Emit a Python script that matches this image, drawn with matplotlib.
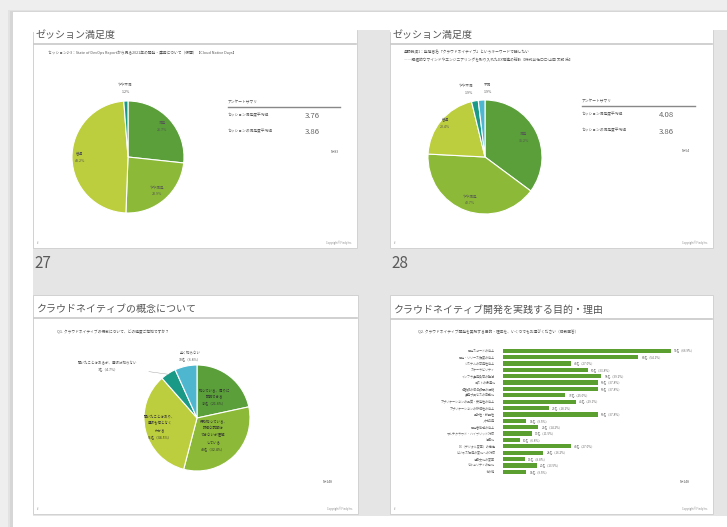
import matplotlib
matplotlib.use('Agg')
import matplotlib.pyplot as plt
from matplotlib.patches import Rectangle
import numpy as np

plt.rcParams['font.family'] = ['Noto Sans CJK JP', 'DejaVu Sans']

W, H = 727, 527

# ---------------- data ----------------
slide_titles = ['ゼッション満足度', 'ゼッション満足度',
                'クラウドネイティブの概念について', 'クラウドネイティブ開発を実践する目的・理由']
slide_numbers = ['27', '28']

s1_subtitle = 'セッション2-3：State of DevOps Reportから見る2021年の開発・運用について（仮題）【Cloud Native Days】'
s1_labels = ['満足', 'やや満足', '普通', 'やや不満']
s1_values = [26.7, 23.9, 48.2, 1.2]
s1_avg_labels = ['セッション満足度平均値', 'セッションの満足度平均値']
s1_avg_values = ['3.76', '3.86']
s1_n = 'N=83'

s2_subtitle = ['基調講演1：登壇者名「クラウドネイティブ」というキーワードで話したい',
               '――積極的なマインドやエンジニアリングを取り入れたDX推進の秘訣【株式会社◯◯ 山田 太郎 氏】']
s2_labels = ['満足', 'やや満足', '普通', 'やや不満', '不満']
s2_values = [35.2, 40.7, 20.4, 1.9, 1.9]
s2_avg_labels = ['セッション満足度平均値', 'セッションの満足度平均値']
s2_avg_values = ['4.08', '3.86']
s2_n = 'N=54'

s3_question = 'Q1. クラウドネイティブの概念について、どの程度ご存知ですか？'
s3_labels = ['知っている、周りに\n説明できる', '概ね知っている、\n詳細な説明は\nできないが理解\nしている',
             '聞いたことはあり、\n意味も何となく\nわかる', '聞いたことはあるが、意味は知らない', '全く知らない']
s3_counts = [32, 48, 51, 7, 10]
s3_n = 148

s4_question = 'Q2. クラウドネイティブ開発を実践する目的・理由を、いくつでもお選びください（複数回答）'
s4_categories = ['開発スピードの向上', '開発・リリース頻度の向上', 'システムの可用性向上', 'スケーラビリティ',
                 'インフラ運用負荷の軽減', 'コストの最適化', '障害時の復旧時間の短縮', '運用プロセスの自動化',
                 'アプリケーションの品質・安定性の向上', 'アプリケーションの移植性の向上', '柔軟性・拡張性',
                 '人材採用', '開発者体験の向上', 'マルチクラウド・ハイブリッド対応', '標準化',
                 'DX（デジタル変革）の推進', 'ビジネス環境の変化への対応', '組織文化の変革',
                 'セキュリティの強化', 'その他']
s4_counts = [99, 80, 40, 50, 58, 56, 56, 37, 43, 27, 56, 14, 21, 17, 10, 40, 24, 13, 20, 14]
s4_n = 148

# ---------------- style ----------------
C_DARK = '#5a9f3a'
C_MED = '#8cba38'
C_YEL = '#bccd3d'
C_TEAL = '#1a9a86'
C_BLUE = '#4fb6cf'
C_BAR = '#5a9f30'
TXT = '#555555'
SMALL = '#555555'

fig = plt.figure(figsize=(W / 100, H / 100), dpi=100)
fig.patch.set_facecolor('#eeeeee')
bg = fig.add_axes([0, 0, 1, 1])
bg.set_xlim(0, W)
bg.set_ylim(H, 0)
bg.axis('off')


def rect(x0, y0, x1, y1, fc, ec='none', lw=0, z=1):
    bg.add_patch(Rectangle((x0, y0), x1 - x0, y1 - y0, facecolor=fc, edgecolor=ec, linewidth=lw, zorder=z))


def px_axes(x0, y0, x1, y1):
    return fig.add_axes([x0 / W, 1 - y1 / H, (x1 - x0) / W, (y1 - y0) / H])


# page + shadow
rect(8, 10, W, H, '#e2e2e2')
rect(10, 11, W, H, '#d6d6d6')
rect(13, 12, W, H, '#ffffff')
# gray panel
rect(33, 30, W, 516, '#e5e5e5')

slides = [(33, 30, 357, 248), (390, 30, 713, 248), (33, 295, 358, 514), (390, 295, 713, 514)]
title_y = [35, 35, 309, 310]
for (x0, y0, x1, y1), t, ty in zip(slides, slide_titles, title_y):
    rect(x0, y0, x1, y1, '#ffffff', ec='#d2d2d2', lw=0.7, z=2)
    bg.text(x0 + 3, ty, t, fontsize=7.2, color=TXT, va='center', ha='left', zorder=4)
    bg.plot([x0 + 1, x1 - 1], [ty + 9, ty + 9], color='#c8c8c8', lw=1.2, zorder=3)
    bg.text(x0 + 4, y1 - 5, '#', fontsize=1.8, color='#888', va='center', zorder=4)
    bg.text(x1 - 5, y1 - 5, 'Copyright © Findy Inc.', fontsize=1.8, color='#888', va='center', ha='right', zorder=4)
# top of upper slides blends into the white page
rect(33, 29, 357, 31.5, '#ffffff', z=3)
rect(390, 29, 713, 31.5, '#ffffff', z=3)

for (x0, y0, x1, y1), n in zip(slides[:2], slide_numbers):
    bg.text(x0 + 1, y1 + 15, n, fontsize=11, color='#5a5a5a', va='center', ha='left', zorder=4)

# subtitles
bg.text(48, 53, s1_subtitle, fontsize=2.7, color=SMALL, va='center', zorder=4)
bg.text(404, 52, s2_subtitle[0], fontsize=2.7, color=SMALL, va='center', zorder=4)
bg.text(404, 60, s2_subtitle[1], fontsize=2.7, color=SMALL, va='center', zorder=4)
bg.text(57, 332, s3_question, fontsize=2.7, color=SMALL, va='center', zorder=4)
bg.text(418, 332, s4_question, fontsize=2.7, color=SMALL, va='center', zorder=4)


# summary tables
def table(x0, x1, y, labels, values, n, nx):
    bg.text(x0, y - 5, 'アンケートサマリ', fontsize=2.7, color=SMALL, va='center', zorder=4)
    bg.plot([x0, x1], [y, y], color='#888888', lw=1.0, zorder=4)
    for i, (lab, v) in enumerate(zip(labels, values)):
        yy = y + 8 + i * 16.5
        bg.text(x0, yy, lab, fontsize=2.7, color=SMALL, va='center', zorder=4)
        bg.text(x0 + 77, yy + 1, v, fontsize=5.6, color='#666666', va='center', zorder=4)
    bg.text(nx, y + 45, n, fontsize=2.4, color=SMALL, va='center', ha='right', zorder=4)


table(228, 340, 107, s1_avg_labels, s1_avg_values, s1_n, 339)
table(582, 695, 106, s2_avg_labels, s2_avg_values, s2_n, 690)


def pie(cx, cy, r, values, colors):
    ax = px_axes(cx - r, cy - r, cx + r, cy + r)
    wedges, _ = ax.pie(values, colors=colors, startangle=90, counterclock=False, radius=1,
                       wedgeprops=dict(edgecolor='white', linewidth=0.8))
    ax.set_xlim(-1, 1)
    ax.set_ylim(-1, 1)
    ax.set_aspect('equal')
    ax.axis('off')
    return ax, wedges


def mid(w):
    th = np.deg2rad((w.theta1 + w.theta2) / 2)
    return np.cos(th), np.sin(th)


# pie 1
ax1, w1 = pie(128, 157, 56, s1_values, [C_DARK, C_MED, C_YEL, C_TEAL])
d1 = [0.82, 0.8, 0.86, 1.22]
for w, lab, v, d in zip(w1, s1_labels, s1_values, d1):
    c, s = mid(w)
    ax1.text(d * c, d * s, f'{lab}\n{v:.1f}%', fontsize=2.6, color=SMALL, ha='center', va='center',
             linespacing=1.9)

# pie 2
ax2, w2 = pie(485, 157, 57, s2_values, [C_DARK, C_MED, C_YEL, C_TEAL, C_BLUE])
d2 = [0.76, 0.8, 0.91, 1.2, 1.2]
ha2 = ['center', 'center', 'center', 'right', 'left']
for w, lab, v, d, ha in zip(w2, s2_labels, s2_values, d2, ha2):
    c, s = mid(w)
    ax2.text(d * c + (0.05 if ha == 'left' else 0), d * s, f'{lab}\n{v:.1f}%', fontsize=2.6, color=SMALL,
             ha=ha, va='center', linespacing=1.9)

# pie 3
ax3, w3 = pie(197, 418, 53, s3_counts, [C_DARK, C_MED, C_YEL, C_TEAL, C_BLUE])
d3 = [0.52, 0.45, 0.72]
for w, lab, cnt, d in zip(w3[:3], s3_labels[:3], s3_counts[:3], d3):
    c, s = mid(w)
    ax3.text(d * c, d * s, f'{lab}\n{cnt}名（{cnt / s3_n * 100:.1f}%）', fontsize=2.5, color='#333333',
             ha='center', va='center', linespacing=1.9)
c, s = mid(w3[4])
ax3.text(1.2 * c + 0.12, 1.2 * s, f'{s3_labels[4]}\n{s3_counts[4]}名（{s3_counts[4] / s3_n * 100:.1f}%）',
         fontsize=2.5, color=SMALL, ha='center', va='center', linespacing=1.9)
c, s = mid(w3[3])
ax3.annotate(f'{s3_labels[3]}\n{s3_counts[3]}名（{s3_counts[3] / s3_n * 100:.1f}%）',
             xy=(0.98 * c, 0.98 * s), xytext=(-1.68, 0.98), fontsize=2.5, color=SMALL,
             ha='center', va='center', linespacing=1.9,
             arrowprops=dict(arrowstyle='-', lw=0.3, color='#999999', shrinkA=6, shrinkB=0))
bg.text(333, 482, f'N={s3_n}', fontsize=2.4, color=SMALL, ha='right', va='center', zorder=4)

# bar chart
px_per = 168 / 99
bx0, bx1 = 502.7, 702.7
ax4 = px_axes(bx0, 347.5, bx1, 475)
y = np.arange(len(s4_counts))
ax4.barh(y, s4_counts, height=0.68, color=C_BAR)
ax4.set_xlim(0, (bx1 - bx0) / px_per)
ax4.set_ylim(len(s4_counts) - 0.5, -0.5)
ax4.axis('off')
for i, c in enumerate(s4_counts):
    ax4.text(c + 2.0, i, f'{c}名（{c / s4_n * 100:.1f}%）', fontsize=2.2, color='#666666', va='center', ha='left')
    ax4.text(-4.5, i, s4_categories[i], fontsize=2.2, color='#666666', va='center', ha='right')
bg.text(690, 482, f'N={s4_n}', fontsize=2.4, color=SMALL, ha='right', va='center', zorder=4)

fig.savefig('out.png', dpi=100, facecolor=fig.get_facecolor())
